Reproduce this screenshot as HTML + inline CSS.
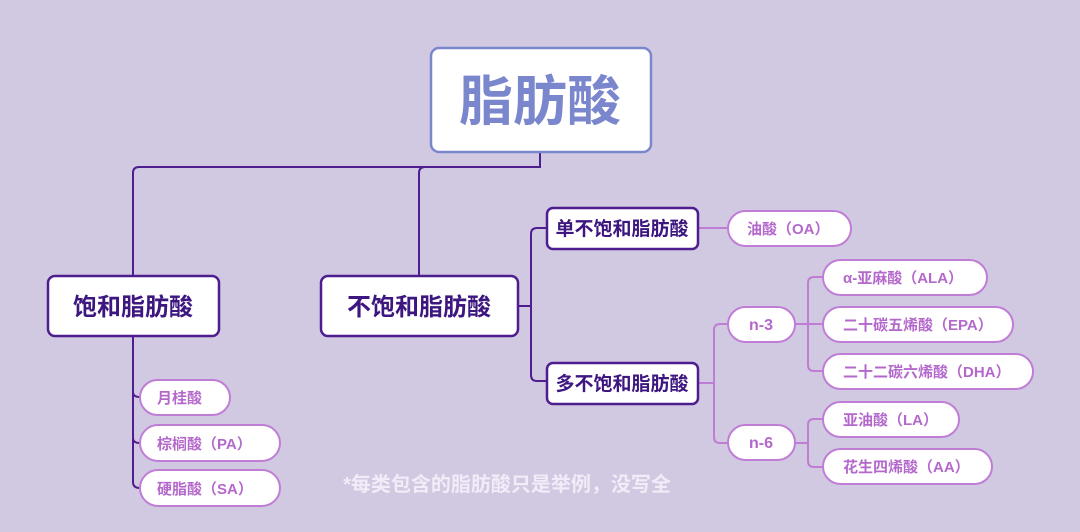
<!DOCTYPE html>
<html><head><meta charset="utf-8"><style>
html,body{margin:0;padding:0;background:#d1c9e1;}
svg{display:block}
text{font-family:"Liberation Sans","Noto Sans CJK SC",sans-serif;font-weight:bold;}
</style></head><body>
<svg width="1080" height="532" viewBox="0 0 1080 532">
<rect width="1080" height="532" fill="#d1c9e1"/>
<g fill="none" stroke="#4e1d8f" stroke-width="2">
<path d="M540 152 V167 H139 Q133 167 133 173 V276"/>
<path d="M425 167 Q419 167 419 173 V276"/>
<path d="M519 306 H531"/>
<path d="M547 228 H537 Q531 228 531 234 V375 Q531 381 537 381 H547"/>
<path d="M133 336 V482 Q133 488 140 488"/>
<path d="M133 392 Q133 397 140 397"/>
<path d="M133 438 Q133 443 140 443"/>
</g>
<g fill="none" stroke="#c07dd6" stroke-width="2">
<path d="M698 228 H728"/>
<path d="M698 383 H714"/>
<path d="M728 324 H720 Q714 324 714 330 V437 Q714 443 720 443 H728"/>
<path d="M795 324 H823"/>
<path d="M823 277 H814 Q808 277 808 283 V365 Q808 371 814 371 H823"/>
<path d="M795 443 H808"/>
<path d="M823 419 H814 Q808 419 808 425 V461 Q808 467 814 467 H823"/>
</g>
<rect x="431" y="48" width="220" height="104" rx="8" fill="#fff" stroke="#7b87cc" stroke-width="2.5"/>
<text x="540" y="120" font-size="54" fill="#7b87cc" text-anchor="middle">脂肪酸</text>
<g fill="#fff" stroke="#4e1d8f" stroke-width="2.5">
<rect x="48" y="276" width="171" height="60" rx="7"/>
<rect x="321" y="276" width="197" height="60" rx="7"/>
<rect x="547" y="208" width="151" height="41" rx="6"/>
<rect x="547" y="363" width="151" height="41" rx="6"/>
</g>
<g fill="#3d1680" text-anchor="middle">
<text x="133" y="315" font-size="24">饱和脂肪酸</text>
<text x="419" y="315" font-size="24">不饱和脂肪酸</text>
<text x="622" y="235" font-size="19">单不饱和脂肪酸</text>
<text x="622" y="390" font-size="19">多不饱和脂肪酸</text>
</g>
<g fill="#fff" stroke="#c07dd6" stroke-width="2">
<rect x="728" y="211" width="123" height="35" rx="17.5"/>
<rect x="728" y="307" width="67" height="35" rx="17.5"/>
<rect x="728" y="425" width="67" height="35" rx="17.5"/>
<rect x="823" y="260" width="164" height="35" rx="17.5"/>
<rect x="823" y="307" width="190" height="35" rx="17.5"/>
<rect x="823" y="354" width="210" height="35" rx="17.5"/>
<rect x="823" y="402" width="136" height="35" rx="17.5"/>
<rect x="823" y="449" width="169" height="35" rx="17.5"/>
<rect x="140" y="380" width="90" height="35" rx="17.5"/>
<rect x="140" y="425" width="140" height="36" rx="18"/>
<rect x="140" y="470" width="140" height="36" rx="18"/>
</g>
<g fill="#b468cc" font-size="15">
<text x="747" y="234">油酸（OA）</text>
<text x="761" y="330" text-anchor="middle" font-size="16">n-3</text>
<text x="761" y="448" text-anchor="middle" font-size="16">n-6</text>
<text x="843" y="283">α-亚麻酸（ALA）</text>
<text x="843" y="330">二十碳五烯酸（EPA）</text>
<text x="843" y="377">二十二碳六烯酸（DHA）</text>
<text x="843" y="425">亚油酸（LA）</text>
<text x="843" y="472">花生四烯酸（AA）</text>
<text x="157" y="403">月桂酸</text>
<text x="157" y="449">棕榈酸（PA）</text>
<text x="157" y="494">硬脂酸（SA）</text>
</g>
<text x="507" y="491" font-size="20" fill="#f1ecf7" text-anchor="middle">*每类包含的脂肪酸只是举例，没写全</text>
</svg>
</body></html>
